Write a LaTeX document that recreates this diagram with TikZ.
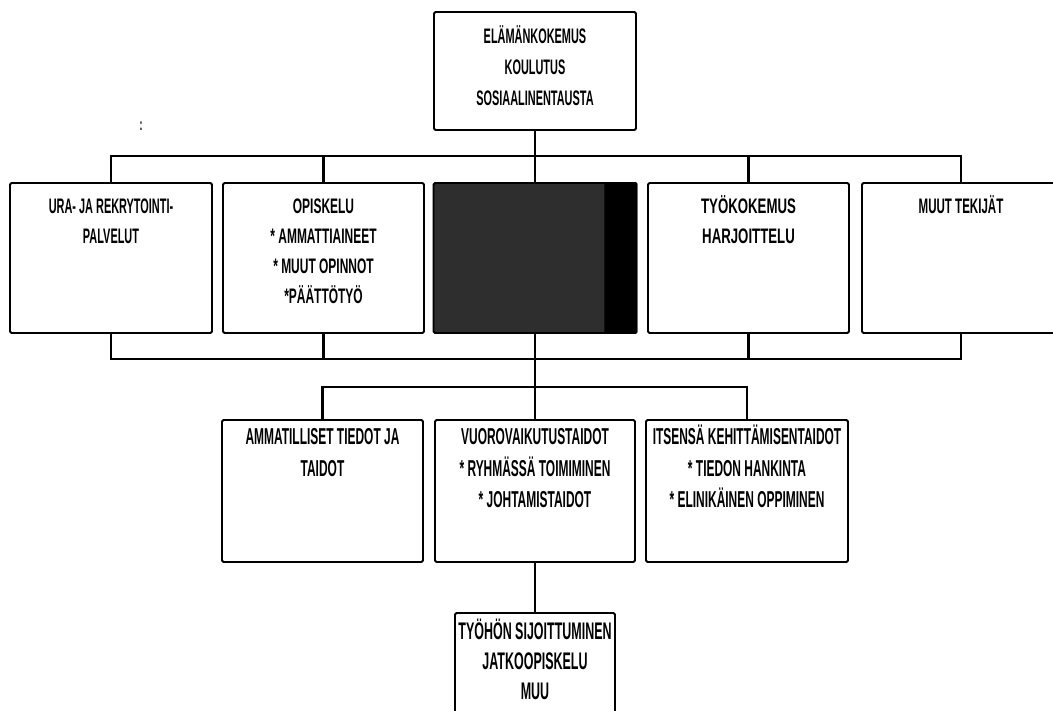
\documentclass[tikz,border=0pt]{standalone}
\usepackage{fontspec}
\setmainfont{Liberation Sans}
\newfontfamily\fontN[FakeStretch=0.52]{Liberation Sans Bold}
\newfontfamily\fontNb[FakeStretch=0.55]{Liberation Sans Bold}
\newfontfamily\fontNd[FakeStretch=0.57]{Liberation Sans Bold}
\newfontfamily\fontNc[FakeStretch=0.63]{Liberation Sans Bold}
\tikzset{
  box/.style={draw, line width=1.8pt, rounded corners=1.5pt, inner sep=0pt},
  txt/.style n args={3}{font=#3\fontsize{#1}{#2}\selectfont, align=center, inner sep=0pt, anchor=north},
  wire/.style={line width=2.6pt, line join=miter},
}
\newcommand{\firstln}{\rule{0pt}{0.95em}}
\begin{document}
\begin{tikzpicture}[x=1pt,y=-1pt]
\useasboundingbox (0,0) rectangle (1053,711);
\clip (0,0) rectangle (1053,711);

% boxes
\node[box, minimum width=202, minimum height=118] (top) at (535,71) {};
\node[box, minimum width=202, minimum height=150] (b1) at (111,258) {};
\node[box, minimum width=201, minimum height=150] (b2) at (323.5,258) {};
\node[box, fill=black!82, minimum width=203, minimum height=150] (b3) at (535,258) {};
\fill[black, rounded corners=1.5pt] ([xshift=-33pt]b3.north east) rectangle (b3.south east);
\node[box, minimum width=201, minimum height=150] (b4) at (748.5,258) {};
\node[box, minimum width=198, minimum height=150] (b5) at (961,258) {};
\node[box, minimum width=201, minimum height=142] (la) at (322.5,491) {};
\node[box, minimum width=200, minimum height=142] (lb) at (535,491) {};
\node[box, minimum width=202, minimum height=142] (lc) at (747,491) {};
\node[box, minimum width=160, minimum height=112] (fin) at (535,669) {};

% connectors
\coordinate (busT) at (535,156);
\coordinate (busB) at (535,359);
\coordinate (busL) at (535,387);
\draw[wire] (top.south) -- (b3.north);
\draw[wire] (b1.north) |- (busT) -| (b5.north);
\draw[wire] (b2.north) -- (b2.north |- busT);
\draw[wire] (b4.north) -- (b4.north |- busT);
\draw[wire] (b1.south) |- (busB) -| (b5.south);
\draw[wire] (b2.south) -- (b2.south |- busB);
\draw[wire] (b4.south) -- (b4.south |- busB);
\draw[wire] (b3.south) -- (lb.north);
\draw[wire] (la.north) |- (busL) -| (lc.north);
\draw[wire] (lb.south) -- (fin.north);

% texts
\node[txt={21}{31}{\fontN}] (ttop) at ([yshift=-12.5pt]top.north) {\firstln ELÄMÄNKOKEMUS\\KOULUTUS\\SOSIAALINENTAUSTA};
\node[txt={21}{30}{\fontN}] (t1) at ([yshift=-11.5pt]b1.north) {\firstln URA- JA REKRYTOINTI-\\PALVELUT};
\node[txt={21}{30}{\fontNd}] (t2) at ([yshift=-11.5pt]b2.north) {\firstln OPISKELU\\* AMMATTIAINEET\\* MUUT OPINNOT\\*PÄÄTTÖTYÖ};
\node[txt={21}{30}{\fontNc}] (t4) at ([yshift=-11.5pt]b4.north) {\firstln TYÖKOKEMUS\\HARJOITTELU};
\node[txt={21}{30}{\fontNb}] (t5) at ([yshift=-11.5pt]b5.north) {\firstln MUUT TEKIJÄT};
\node[txt={23}{31.5}{\fontN}] (tla) at ([yshift=-3.4pt]la.north) {\firstln AMMATILLISET TIEDOT JA\\TAIDOT};
\node[txt={23}{31.5}{\fontN}] (tlb) at ([yshift=-3.4pt]lb.north) {\firstln VUOROVAIKUTUSTAIDOT\\* RYHMÄSSÄ TOIMIMINEN\\* JOHTAMISTAIDOT};
\node[txt={23}{31.5}{\fontN}] (tlc) at ([yshift=-3.4pt]lc.north) {\firstln ITSENSÄ KEHITTÄMISENTAIDOT\\* TIEDON HANKINTA\\* ELINIKÄINEN OPPIMINEN};
\node[txt={24}{30}{\fontN}] (tfin) at ([yshift=-4.8pt]fin.north) {\firstln TYÖHÖN SIJOITTUMINEN\\JATKOOPISKELU\\MUU};

\node[font=\fontN\fontsize{17}{17}\selectfont, inner sep=0pt] (mark) at (141,126) {:};
\end{tikzpicture}
\end{document}
